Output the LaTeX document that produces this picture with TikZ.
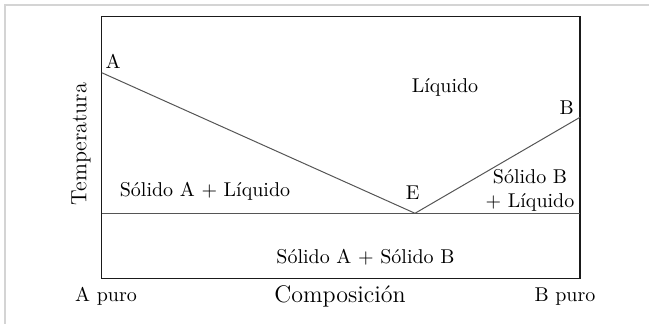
\documentclass[tikz,border=0pt]{standalone}
\usepackage{tikz}
\usetikzlibrary{positioning}
\definecolor{frame-gray}{HTML}{D4D4D4}
\definecolor{phase-line}{HTML}{555555}
\definecolor{axis-line}{HTML}{1A1A1A}
\tikzset{
  plot-box/.style={draw=axis-line, line width=0.65pt},
  phase-edge/.style={draw=phase-line, line width=0.5pt},
  region-label/.style={font=\normalsize, inner sep=0pt, align=center},
  axis-label/.style={font=\fontsize{12}{14}\selectfont, inner sep=0pt}
}

\begin{document}
\begin{tikzpicture}[x=0.5pt, y=-0.5pt]
  \useasboundingbox (0,0) rectangle (649,324);
  \draw[frame-gray, line width=0.7pt] (5,324) -- (5,5) -- (649,5);

  % diagram frame and key points
  \draw[plot-box] (101.7,16.7) rectangle (580,278.3);
  \coordinate (pa) at (101.7, 72.7);
  \coordinate (pb) at (580, 117.3);
  \coordinate (pe) at (415, 213.3);
  \coordinate (el) at (101.7, 213.3);
  \coordinate (er) at (580, 213.3);

  \draw[phase-edge] (pa) -- (pe) -- (pb);
  \draw[phase-edge] (el) -- (er);

  \node[region-label] (la)   at (113, 61.7)  {A};
  \node[region-label] (lb)   at (566.7, 108) {B};
  \node[region-label] (le)   at (412.7, 193) {E};
  \node[region-label] (liq)  at (445, 87)    {Líquido};
  \node[region-label] (sal)  at (205, 191.7) {Sólido A + Líquido};
  \node[region-label] (sbl)  at (530, 190)   {Sólido B\\+ Líquido};
  \node[region-label] (sab)  at (365.5, 256.7) {Sólido A + Sólido B};

  \node[region-label] (apuro) at (106, 296.7) {A puro};
  \node[region-label] (bpuro) at (565, 296.5) {B puro};
  \node[axis-label]   (comp)  at (340, 296)   {Composición};
  \node[axis-label, font=\fontsize{11}{13}\selectfont, rotate=90] (temp) at (81, 144) {Temperatura};
\end{tikzpicture}
\end{document}
